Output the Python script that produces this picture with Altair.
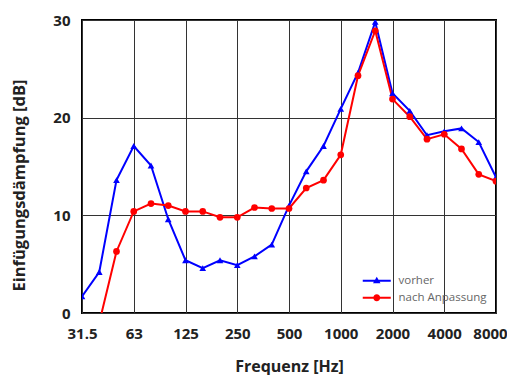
import altair as alt
import pandas as pd

freq_labels = ["31.5", "40", "50", "63", "80", "100", "125", "160", "200", "250",
               "315", "400", "500", "630", "800", "1000", "1250", "1600", "2000",
               "2500", "3150", "4000", "5000", "6300", "8000"]
vorher = [1.7, 4.2, 13.6, 17.1, 15.1, 9.6, 5.4, 4.6, 5.4, 4.9,
          5.8, 7.0, 11.0, 14.5, 17.1, 20.9, 24.6, 29.8, 22.5,
          20.7, 18.2, 18.6, 18.9, 17.5, 13.9]
nach = [-0.6, -1.0, 6.3, 10.4, 11.2, 11.0, 10.4, 10.4, 9.8, 9.8,
        10.8, 10.7, 10.7, 12.8, 13.6, 16.2, 24.3, 28.9, 21.9,
        20.1, 17.8, 18.3, 16.8, 14.2, 13.5]
tick_labels = ["31.5", "63", "125", "250", "500", "1000", "2000", "4000", "8000"]
series_names = ["vorher", "nach Anpassung"]
series_colors = ["#0000ff", "#ff0000"]

rows = []
for i, f in enumerate(freq_labels):
    rows.append({"idx": i, "freq": f, "series": series_names[0], "value": vorher[i]})
    rows.append({"idx": i, "freq": f, "series": series_names[1], "value": nach[i]})
df = pd.DataFrame(rows)

last_idx = len(freq_labels) - 1
label_js = "[" + ",".join(f"'{t}'" for t in tick_labels) + "][round(datum.value/3)]"

FONT = "Open Sans"

x = alt.X("idx:Q",
          scale=alt.Scale(domain=[0, last_idx], nice=False, zero=False),
          axis=alt.Axis(values=list(range(0, len(freq_labels), 3)), labelExpr=label_js,
                        title="Frequenz [Hz]", labelPadding=13, titlePadding=17,
                        titleFontSize=16,
                        labelOffset={"condition": {"test": f"datum.value == {last_idx}", "value": -6},
                                     "value": 0},
                        labelFlush=False, labelOverlap=False, labelBound=False))
y = alt.Y("value:Q",
          scale=alt.Scale(domain=[0, 30], nice=False),
          axis=alt.Axis(values=[0, 10, 20, 30], title="Einfügungsdämpfung [dB]",
                        labelPadding=12, titlePadding=25, titleFontSize=16.5, titleY=165,
                        labelFlush=False, labelOverlap=False, labelBound=False))

color_scale = alt.Scale(domain=series_names, range=series_colors)

base = alt.Chart(df)

lines = base.mark_line(strokeWidth=2, clip=True).encode(
    x=x, y=y,
    color=alt.Color("series:N", scale=color_scale, legend=None),
)

points = base.mark_point(filled=True, size=45, opacity=1, clip=True).encode(
    x=x, y=y,
    color=alt.Color("series:N", scale=color_scale, legend=None),
    shape=alt.Shape("series:N",
                    scale=alt.Scale(domain=series_names, range=["triangle-up", "circle"]),
                    legend=None),
)

legend_paths = [
    "M-2.8,-0.22L2.8,-0.22L2.8,0.22L-2.8,0.22Z M0,-0.8L0.75,0.5L-0.75,0.5Z",
    "M-2.8,-0.22L2.8,-0.22L2.8,0.22L-2.8,0.22Z M0.7,0A0.7,0.7,0,1,1,-0.7,0A0.7,0.7,0,1,1,0.7,0Z",
]
leg = alt.Legend(title=None, orient="none", legendX=289, legendY=255,
                 symbolSize=100, symbolStrokeWidth=0, labelOffset=16,
                 rowPadding=4, labelFont=FONT, labelFontSize=11.5,
                 labelColor="#666666", labelFontWeight="normal")

legend_layer = base.transform_filter("false").mark_point(filled=True, opacity=1).encode(
    x=x, y=y,
    color=alt.Color("series:N", scale=color_scale, legend=leg),
    shape=alt.Shape("series:N", scale=alt.Scale(domain=series_names, range=legend_paths),
                    legend=leg),
)

chart = alt.layer(lines, points, legend_layer).resolve_scale(
    color="independent", shape="independent"
).properties(
    width=414, height=293,
    padding={"left": 74, "top": 12, "right": 11, "bottom": 62},
    autosize="none",
).configure_view(
    stroke="black", strokeWidth=2
).configure_axis(
    grid=True, gridColor="#333333", gridWidth=1, domain=False, ticks=False,
    labelFont=FONT, labelFontWeight="bold", labelFontSize=15, labelColor="#222222",
    titleFont=FONT, titleFontWeight="bold", titleColor="#222222",
)

chart.save("out.html", embed_options={"renderer": "svg", "actions": False})
